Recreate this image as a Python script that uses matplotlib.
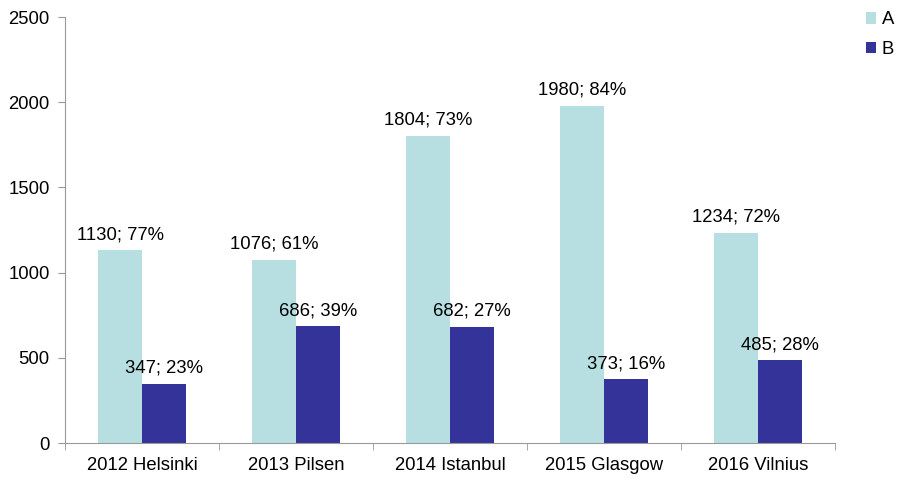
import numpy as np
import matplotlib.pyplot as plt

categories = ["2012 Helsinki", "2013 Pilsen", "2014 Istanbul", "2015 Glasgow", "2016 Vilnius"]
series_a = [1130, 1076, 1804, 1980, 1234]
series_b = [347, 686, 682, 373, 485]
pct_a = [77, 61, 73, 84, 72]
pct_b = [23, 39, 27, 16, 28]

plt.rcParams['font.family'] = ['Liberation Sans', 'DejaVu Sans']
fs = 13.3

fig = plt.figure(figsize=(9, 5), dpi=100)
ax = fig.add_axes([0.0722, 0.114, 0.8556, 0.852])

x = np.arange(len(categories))
w = 0.285
bars_a = ax.bar(x - w / 2, series_a, w, color='#b7dfe1', label='A')
bars_b = ax.bar(x + w / 2, series_b, w, color='#333399', label='B')

for rect, v, p in zip(bars_a, series_a, pct_a):
    ax.annotate(f"{v}; {p}%", (rect.get_x() + rect.get_width() / 2, v),
                xytext=(0, 5), textcoords='offset points', ha='center', va='bottom', fontsize=fs)
for rect, v, p in zip(bars_b, series_b, pct_b):
    ax.annotate(f"{v}; {p}%", (rect.get_x() + rect.get_width() / 2, v),
                xytext=(0, 5), textcoords='offset points', ha='center', va='bottom', fontsize=fs)

ax.set_xlim(-0.5, len(categories) - 0.5)
ax.set_ylim(0, 2500)
ax.set_yticks(range(0, 2501, 500))
ax.set_xticks(x)
ax.set_xticklabels(categories)
ax.set_xticks(np.arange(-0.5, len(categories), 1), minor=True)
ax.tick_params(axis='x', which='major', length=0, pad=10, labelsize=fs)
ax.tick_params(axis='x', which='minor', length=5, color='#999999')
ax.tick_params(axis='y', length=5, color='#999999', labelsize=fs, pad=6)

for s in ['top', 'right']:
    ax.spines[s].set_visible(False)
for s in ['left', 'bottom']:
    ax.spines[s].set_color('#999999')

fig.legend(handles=[bars_a, bars_b], labels=['A', 'B'], loc='upper left',
           bbox_to_anchor=(0.962, 0.977), frameon=False, fontsize=fs, borderpad=0,
           borderaxespad=0, handlelength=0.55, handleheight=0.55, handletextpad=0.3,
           labelspacing=0.7)

fig.savefig('out.png', dpi=100)
